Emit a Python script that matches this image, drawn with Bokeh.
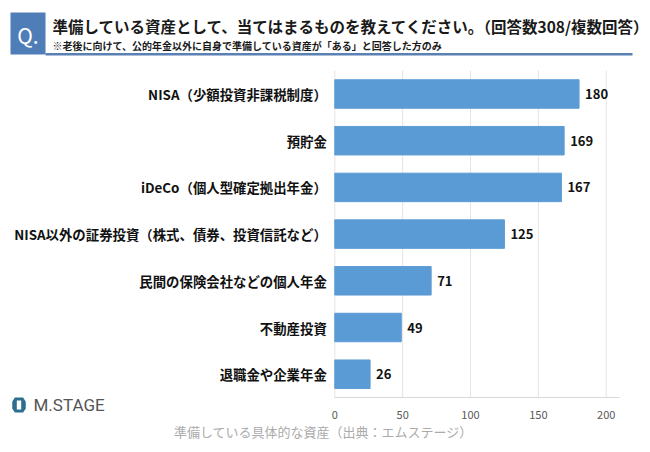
from bokeh.plotting import figure
from bokeh.models import (Label, BoxAnnotation, PolyAnnotation, ColumnDataSource,
                          FixedTicker, Range1d)
from bokeh.core.properties import value
from bokeh.embed import file_html
from bokeh.resources import INLINE

categories = [
    "NISA（少額投資非課税制度）",
    "預貯金",
    "iDeCo（個人型確定拠出年金）",
    "NISA以外の証券投資（株式、債券、投資信託など）",
    "民間の保険会社などの個人年金",
    "不動産投資",
    "退職金や企業年金",
]
counts = [180, 169, 167, 125, 71, 49, 26]
x_ticks = [0, 50, 100, 150, 200]

title_text = "準備している資産として、当てはまるものを教えてください。（回答数308/複数回答）"
subtitle_text = "※老後に向けて、公的年金以外に自身で準備している資産が「ある」と回答した方のみ"
axis_title = "準備している具体的な資産（出典：エムステージ）"
logo_text = "M.STAGE"

JP = "Noto Sans CJK JP"
BAR = "#5B9BD5"
W, H = 650, 452

# row positions: first category at top (row 0)
rows = list(range(len(categories)))
src = ColumnDataSource(dict(row=rows, n=counts, lbl=[str(v) for v in counts]))

# frame covers the whole canvas; data ranges chosen so the plotting area sits where the reference has it
PX_PER_UNIT = 1.357
X0_PX = 334.3
ROW_PX = 46.7
ROW0_PX = 93.5
x_range = Range1d(-X0_PX / PX_PER_UNIT, (W - X0_PX) / PX_PER_UNIT)
y_range = Range1d((H - ROW0_PX) / ROW_PX, (0 - ROW0_PX) / ROW_PX)

p = figure(width=W, height=H, x_range=x_range, y_range=y_range,
           output_backend="svg", toolbar_location=None,
           min_border=0, min_border_left=0, min_border_right=0,
           min_border_top=0, min_border_bottom=0)
p.outline_line_color = None
p.background_fill_color = "white"
p.border_fill_color = "white"
p.xgrid.grid_line_color = None
p.ygrid.grid_line_color = None

top_edge = rows[0] - 0.5
bottom_edge = rows[-1] + 0.5
x_end = 210

# vertical grid lines at the x ticks, spanning the category band
p.segment(x0=x_ticks, x1=x_ticks, y0=[top_edge] * len(x_ticks), y1=[bottom_edge] * len(x_ticks),
          line_color="#E4E4E4", line_width=1)

p.hbar(y="row", right="n", left=0, height=0.61, source=src, fill_color=BAR, line_color=BAR)
p.text(x="n", y="row", text="lbl", source=src, x_offset=6, text_baseline="middle",
       text_align="left", text_font=value(JP), text_font_style="bold",
       text_font_size="13px", text_color="#111111")

# x axis drawn at the bottom of the category band
xa = p.xaxis[0]
xa.fixed_location = bottom_edge
xa.bounds = (0, x_end)
xa.ticker = FixedTicker(ticks=x_ticks)
xa.axis_line_color = "#D9D9D9"
xa.major_tick_line_color = None
xa.minor_tick_line_color = None
xa.major_label_text_font = JP
xa.major_label_text_font_size = "11px"
xa.major_label_text_color = "#595959"
xa.major_label_standoff = 7

# y axis (category labels) at x = 0
ya = p.yaxis[0]
ya.fixed_location = 0
ya.ticker = FixedTicker(ticks=rows)
ya.major_label_overrides = {r: c for r, c in zip(rows, categories)}
ya.axis_line_color = None
ya.major_tick_line_color = None
ya.minor_tick_line_color = None
ya.major_label_text_font = JP
ya.major_label_text_font_size = "13.4px"
ya.major_label_text_font_style = "bold"
ya.major_label_text_color = "#111111"
ya.major_label_standoff = 2

# decorations in screen units (origin bottom-left of frame = canvas)
def sy(py):
    return H - py

def box(l, r, t, b, color):
    return BoxAnnotation(left=l, right=r, top=sy(t), bottom=sy(b),
                         left_units="screen", right_units="screen",
                         top_units="screen", bottom_units="screen",
                         fill_color=color, fill_alpha=1, line_color=None)

p.add_layout(box(10, 45, 12, 54, "#4F7DB8"))
p.add_layout(box(45, 632, 52.5, 55, "#5A80B4"))
p.add_layout(Label(x=27.5, y=sy(34), x_units="screen", y_units="screen", text="Q.",
                   text_font=JP, text_font_size="21px", text_color="white",
                   text_align="center", text_baseline="middle"))
p.add_layout(Label(x=52, y=sy(25), x_units="screen", y_units="screen", text=title_text,
                   text_font=JP, text_font_size="15.5px", text_font_style="bold", text_color="#1a1a1a",
                   text_align="left", text_baseline="middle"))
p.add_layout(Label(x=52, y=sy(45), x_units="screen", y_units="screen", text=subtitle_text,
                   text_font=JP, text_font_size="10px", text_font_style="bold", text_color="#1a1a1a",
                   text_align="left", text_baseline="middle"))

p.add_layout(Label(x=323, y=sy(431), x_units="screen", y_units="screen", text=axis_title,
                   text_font=JP, text_font_size="13px", text_color="#ABABAB",
                   text_align="center", text_baseline="middle"))

# logo
cx, cy, r = 18.5, 404.5, 7.5
hx = [cx - r * 0.55, cx + r * 0.55, cx + r * 0.9, cx + r * 0.9, cx + r * 0.55, cx - r * 0.55, cx - r * 0.9, cx - r * 0.9]
hy = [cy - r, cy - r, cy - r * 0.45, cy + r * 0.45, cy + r, cy + r, cy + r * 0.45, cy - r * 0.45]
p.add_layout(PolyAnnotation(xs=hx, ys=[sy(v) for v in hy], xs_units="screen", ys_units="screen",
                            fill_color="#2C6F8F", fill_alpha=1, line_color=None))
ix = [cx - 2.2, cx + 2.2, cx + 2.2, cx - 2.2]
iy = [cy - 4.5, cy - 4.5, cy + 4.5, cy + 4.5]
p.add_layout(PolyAnnotation(xs=ix, ys=[sy(v) for v in iy], xs_units="screen", ys_units="screen",
                            fill_color="#FFFFFF", fill_alpha=1, line_color=None))
p.add_layout(Label(x=33, y=sy(404.5), x_units="screen", y_units="screen", text=logo_text,
                   text_font="Roboto", text_font_size="17px", text_color="#555555",
                   text_align="left", text_baseline="middle"))

open("out.html", "w").write(file_html(p, INLINE))
